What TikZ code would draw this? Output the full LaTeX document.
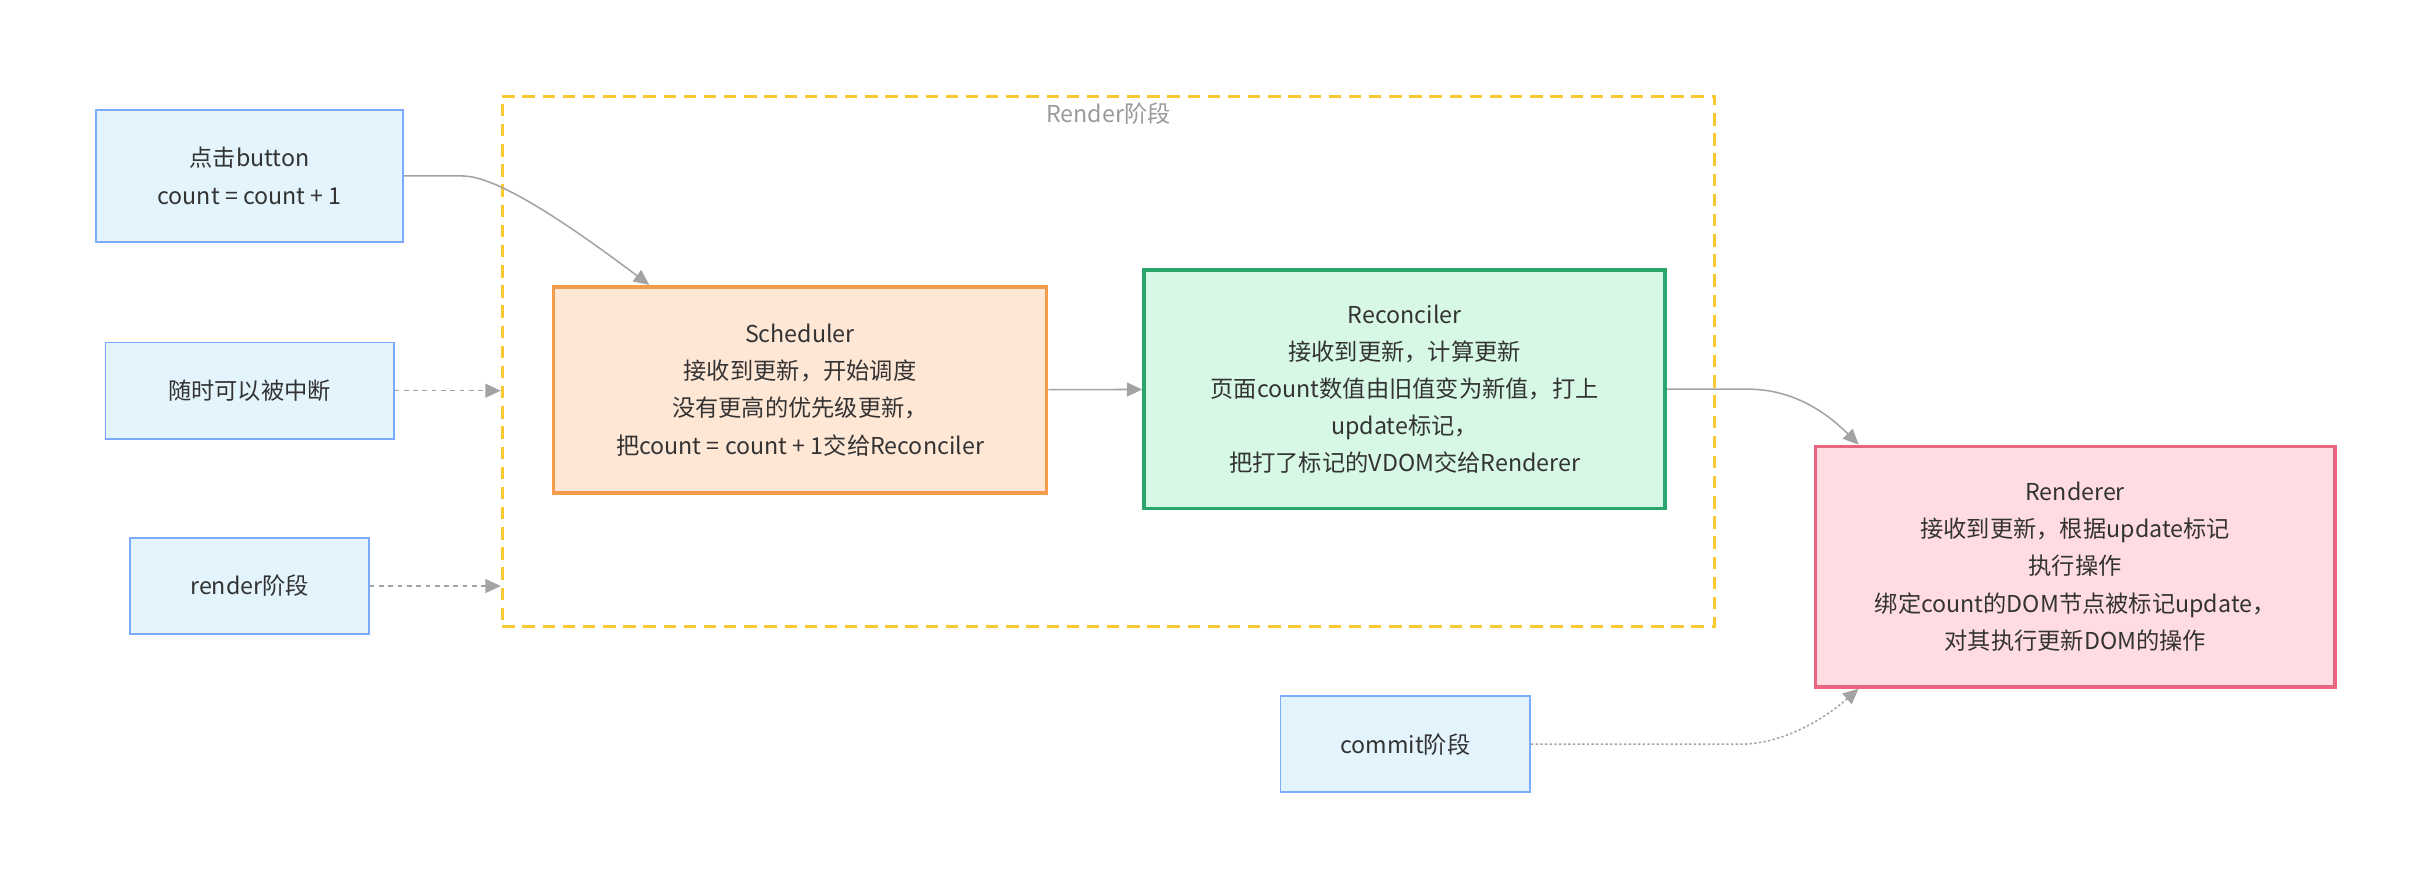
\documentclass[tikz,border=0pt]{standalone}
\usepackage{fontspec}
\newfontfamily\cjk{Noto Sans CJK SC}
\usetikzlibrary{arrows.meta,calc}

\definecolor{txt}{HTML}{333333}
\definecolor{lbl}{HTML}{9A9A9A}
\definecolor{inblue}{HTML}{7AABFF}
\definecolor{inbluefill}{HTML}{E3F4FD}
\definecolor{schedline}{HTML}{F39C4B}
\definecolor{schedfill}{HTML}{FFE7D6}
\definecolor{reconline}{HTML}{2AA56B}
\definecolor{reconfill}{HTML}{D6F8E4}
\definecolor{rendline}{HTML}{E8657F}
\definecolor{rendfill}{HTML}{FFDCE1}
\definecolor{phase}{HTML}{F8C932}
\definecolor{arrgray}{HTML}{A3A3A3}

\begin{document}
\begin{tikzpicture}[
  x=1pt, y=-1pt,
  font=\cjk\fontsize{15}{24}\selectfont,
  every node/.style={text=txt},
  ibox/.style={draw=inblue, fill=inbluefill, line width=1pt, align=center, inner sep=0pt},
  stage/.style={line width=2.4pt, align=center, inner sep=0pt},
  arr/.style={-{Triangle[length=10pt,width=9pt]}, draw=arrgray, line width=1pt},
  weak/.style={arr, dash pattern=on 3pt off 3pt},
  dots/.style={arr, dash pattern=on 1.5pt off 1.5pt}
]
\useasboundingbox (0,0) rectangle (1568,573);

% Render phase
\node[draw=phase, line width=2pt, dash pattern=on 8pt off 5pt, minimum width=782pt, minimum height=342pt, inner sep=0pt] (render) at (715,233) {};
\node[text=lbl] (render-lbl) at (715,73) {Render阶段};

\node[ibox, minimum width=198pt, minimum height=85pt] (click) at (161,113.5) {点击button\\count = count + 1};
\node[ibox, minimum width=186pt, minimum height=62pt] (intr) at (161,252) {随时可以被中断};
\node[ibox, minimum width=154pt, minimum height=62pt] (rphase) at (161,378) {render阶段};
\node[ibox, minimum width=161pt, minimum height=62pt] (cphase) at (906.5,480) {commit阶段};

\node[stage, draw=schedline, fill=schedfill, minimum width=318pt, minimum height=133pt] (sched) at (516,251.5)
  {Scheduler\\接收到更新，开始调度\\没有更高的优先级更新，\\把count = count + 1交给Reconciler};
\node[stage, draw=reconline, fill=reconfill, minimum width=336pt, minimum height=154pt] (recon) at (906,251)
  {Reconciler\\接收到更新，计算更新\\页面count数值由旧值变为新值，打上\\update标记，\\把打了标记的VDOM交给Renderer};
\node[stage, draw=rendline, fill=rendfill, minimum width=335pt, minimum height=155pt] (rend) at (1338.5,365.5)
  {Renderer\\接收到更新，根据update标记\\执行操作\\绑定count的DOM节点被标记update，\\对其执行更新DOM的操作};

\coordinate (sched-in) at ($(sched.north west)+(63,0)$);
\coordinate (rend-in) at ($(rend.north west)+(29,0)$);
\coordinate (rend-in2) at ($(rend.south west)+(29,0)$);

\draw[arr] (click.east) -- ++(38,0) .. controls +(25,0) and +(-40,-30) .. (sched-in);
\draw[weak] (intr.east) -- (intr.east -| render.west);
\draw[weak] (rphase.east) -- (rphase.east -| render.west);
\draw[arr] (sched) -- (recon);
\draw[arr] (recon.east) -- ++(52,0) .. controls +(25,0) and +(-25,-25) .. (rend-in);
\draw[dots] (cphase.east) -- ++(135,0) .. controls +(25,0) and +(-25,22) .. (rend-in2);
\end{tikzpicture}
\end{document}
